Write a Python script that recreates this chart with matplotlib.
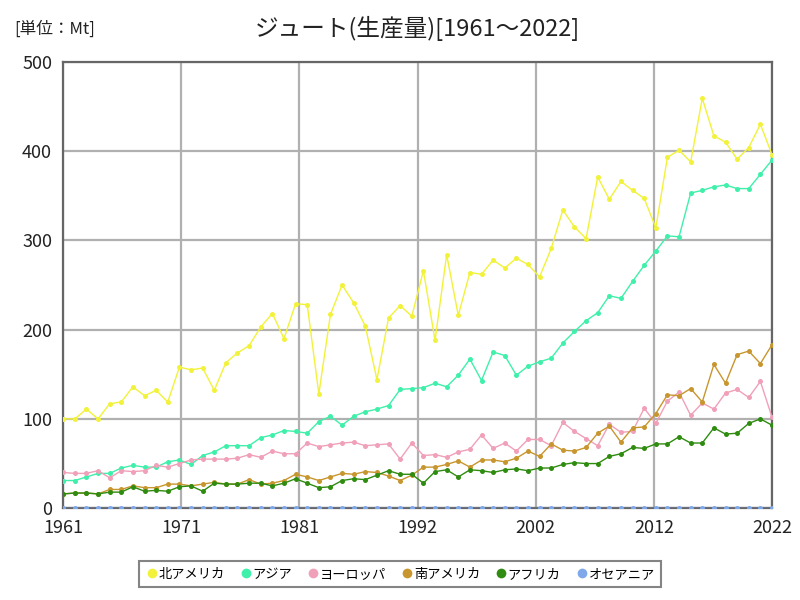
import matplotlib
matplotlib.use("Agg")
import matplotlib.pyplot as plt
from matplotlib.lines import Line2D
import numpy as np

plt.rcParams['font.family'] = ['Noto Sans CJK JP', 'DejaVu Sans']

years = list(range(1961, 2023))

north_america = [100, 100, 111, 100, 117, 119, 136, 126, 132, 119,
                 158, 155, 157, 132, 163, 174, 182, 203, 218, 190,
                 229, 228, 128, 217, 250, 230, 204, 144, 213, 227,
                 215, 266, 188, 284, 216, 264, 262, 278, 269, 280,
                 273, 259, 291, 334, 315, 302, 371, 346, 366, 356,
                 347, 314, 393, 401, 388, 459, 417, 410, 391, 404,
                 430, 396]
asia = [31, 31, 35, 39, 39, 45, 48, 46, 46, 52,
        54, 49, 59, 63, 70, 70, 70, 79, 82, 87,
        86, 84, 97, 103, 93, 103, 108, 111, 115, 133,
        134, 135, 140, 136, 149, 167, 143, 175, 171, 149,
        159, 164, 168, 185, 198, 210, 219, 238, 235, 254,
        272, 288, 305, 304, 353, 356, 360, 362, 358, 358,
        374, 390]
europe = [40, 39, 39, 42, 34, 42, 41, 42, 48, 46,
          50, 54, 55, 55, 55, 56, 60, 57, 64, 61,
          61, 73, 69, 71, 73, 74, 70, 71, 72, 55,
          73, 59, 60, 57, 63, 66, 82, 67, 73, 64,
          77, 77, 70, 96, 86, 78, 70, 94, 85, 86,
          112, 95, 120, 130, 104, 118, 111, 129, 133, 124,
          142, 102]
south_america = [16, 17, 17, 16, 21, 21, 25, 23, 23, 27,
                 27, 25, 27, 29, 27, 27, 32, 27, 28, 31,
                 38, 35, 31, 35, 39, 38, 41, 40, 36, 31,
                 37, 46, 46, 49, 53, 46, 54, 54, 52, 56,
                 64, 58, 72, 65, 64, 68, 84, 92, 74, 90,
                 91, 106, 127, 126, 134, 119, 161, 140, 172, 176,
                 162, 183]
africa = [16, 17, 17, 16, 18, 18, 24, 19, 20, 19,
          24, 25, 19, 28, 27, 27, 28, 28, 25, 28,
          33, 28, 23, 24, 31, 33, 32, 37, 42, 38,
          38, 28, 41, 43, 35, 43, 42, 40, 43, 44,
          42, 45, 45, 49, 51, 50, 50, 58, 61, 68,
          67, 72, 72, 80, 73, 73, 90, 83, 84, 95,
          100, 93]
oceania = [0.1] * 62

series = [
    ("北アメリカ", north_america, "#f2f23a"),
    ("アジア", asia, "#3ff0aa"),
    ("ヨーロッパ", europe, "#f0a0b8"),
    ("南アメリカ", south_america, "#c8962e"),
    ("アフリカ", africa, "#2f8c10"),
    ("オセアニア", oceania, "#7ea8ea"),
]

tick_labels = ["1961", "1971", "1981", "1992", "2002", "2012", "2022"]

fig = plt.figure(figsize=(8, 6), dpi=100)
ax = fig.add_axes([0.079, 0.153, 0.886, 0.744])

for name, vals, col in series:
    ax.plot(years, vals, color=col, lw=1.0, marker="o", ms=3.6,
            markeredgewidth=0, zorder=3)

ax.set_xlim(1961, 2022)
ax.set_ylim(0, 500)
ax.set_yticks([0, 100, 200, 300, 400, 500])
ax.set_xticks(np.linspace(1961, 2022, 7))
ax.set_xticklabels(tick_labels)
ax.tick_params(length=0, labelsize=13, pad=8, colors="#222222")
ax.grid(True, color="#b0b0b0", lw=1.6)
for s in ax.spines.values():
    s.set_color("#666666")
    s.set_linewidth(1.6)

fig.text(0.522, 0.952, "ジュート(生産量)[1961～2022]", ha="center", va="center",
         fontsize=17, color="#222222")
fig.text(0.018, 0.952, "[単位：Mt]", ha="left", va="center", fontsize=12,
         color="#222222")

handles = [Line2D([], [], ls="none", marker="o", ms=7, markeredgewidth=0,
                  color=col) for _, _, col in series]
leg = fig.legend(handles, [n for n, _, _ in series], loc="center",
                 bbox_to_anchor=(0.5, 0.043), ncol=6, fontsize=9.5,
                 handletextpad=0.0, columnspacing=1.1, handlelength=1.0,
                 fancybox=False, borderpad=0.5, frameon=True)
leg.get_frame().set_edgecolor("#666666")
leg.get_frame().set_linewidth(1.5)

fig.savefig("out.png", dpi=100)
